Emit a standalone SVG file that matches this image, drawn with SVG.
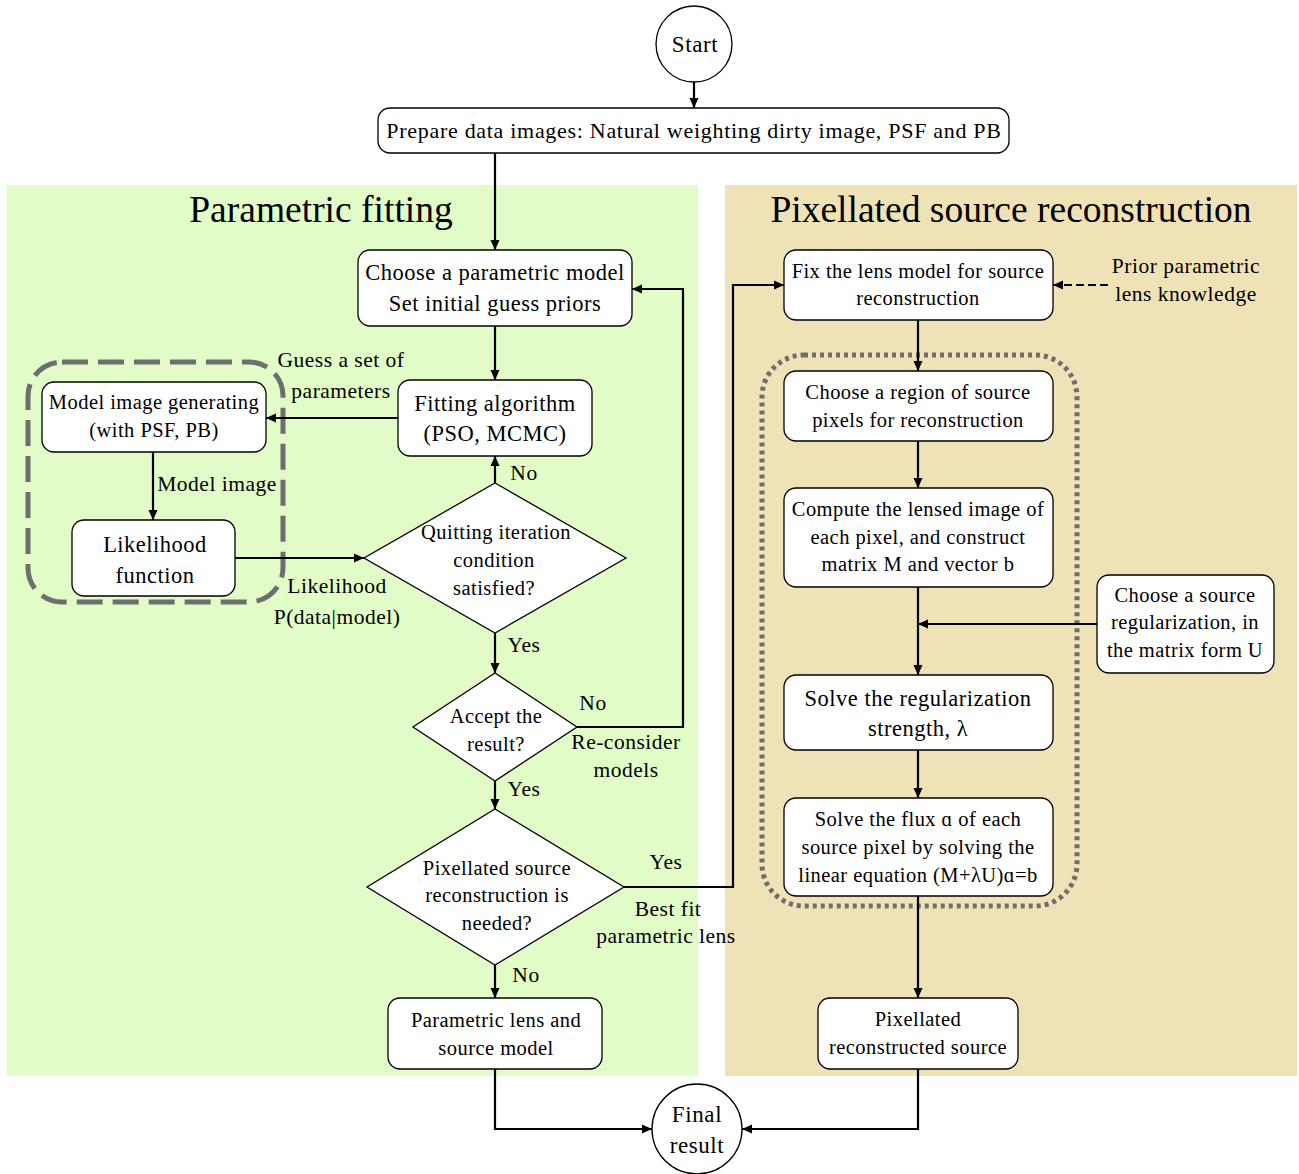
<svg xmlns="http://www.w3.org/2000/svg" width="1299" height="1174" viewBox="0 0 1299 1174">
<defs>
<marker id="ah" viewBox="0 0 10 10" refX="10" refY="5" markerWidth="10" markerHeight="10" markerUnits="userSpaceOnUse" orient="auto">
<path d="M0,0.5 L10,5 L0,9.5 z" fill="#000"/>
</marker>
<style>
text{font-family:"Liberation Serif","Times New Roman",serif;fill:#000;text-anchor:middle;dominant-baseline:central}
.t20{font-size:22px;letter-spacing:0.7px}
.t19{font-size:20.5px;letter-spacing:0.45px}
.t21{font-size:22.5px;letter-spacing:0.5px}
.t23{font-size:23px;letter-spacing:0.6px}
.title{font-size:37.5px}
.box{fill:#fff;stroke:#000;stroke-width:1.3}
.c{fill:none;stroke:#000;stroke-width:2.2;marker-end:url(#ah)}
.lab{font-size:21.5px;letter-spacing:0.5px}
</style>
</defs>
<rect width="1299" height="1174" fill="#fff"/>
<rect x="7" y="185" width="691" height="891" fill="#e1fcc6"/>
<rect x="725" y="185" width="572" height="891" fill="#eee2b6"/>
<text class="title" x="321" y="209">Parametric fitting</text>
<text class="title" x="1011" y="209">Pixellated source reconstruction</text>

<rect x="28" y="362" width="255" height="240" rx="34" fill="none" stroke="#6e6e6e" stroke-width="5" stroke-dasharray="26,10"/>
<rect x="762" y="355" width="315" height="551" rx="42" fill="none" stroke="#6e6e6e" stroke-width="5" stroke-dasharray="4,4"/>

<g id="connectors">
<path class="c" d="M694,82 V108"/>
<path class="c" d="M495,153 V250"/>
<path class="c" d="M495,326 V380"/>
<path class="c" d="M398,418 H266"/>
<path class="c" d="M153,452 V520"/>
<path class="c" d="M235,558 H364"/>
<path class="c" d="M495,483 V456"/>
<path class="c" d="M495,633 V673"/>
<path class="c" d="M577,727 H683 V289 H632"/>
<path class="c" d="M495,781 V809"/>
<path class="c" d="M624,887 H733 V285 H784"/>
<path class="c" d="M495,965 V998"/>
<path class="c" d="M495,1069 V1129 H652"/>
<path class="c" d="M1108,285 H1053" stroke-dasharray="8,4"/>
<path class="c" d="M918,320 V371"/>
<path class="c" d="M918,441 V488"/>
<path class="c" d="M918,587 V675"/>
<path class="c" d="M1097,624 H918"/>
<path class="c" d="M918,750 V798"/>
<path class="c" d="M918,896 V998"/>
<path class="c" d="M918,1069 V1129 H742"/>
</g>

<g id="labels">
<text class="lab" x="341" y="360">Guess a set of</text>
<text class="lab" x="341" y="391">parameters</text>
<text class="lab" x="217" y="484">Model image</text>
<text class="lab" x="337" y="586">Likelihood</text>
<text class="lab" x="337" y="617">P(data|model)</text>
<text class="lab" x="524" y="473">No</text>
<text class="lab" x="524" y="645">Yes</text>
<text class="lab" x="593" y="703">No</text>
<text class="lab" x="626" y="742">Re-consider</text>
<text class="lab" x="626" y="770">models</text>
<text class="lab" x="524" y="789">Yes</text>
<text class="lab" x="666" y="862">Yes</text>
<text class="lab" x="668" y="909">Best fit</text>
<text class="lab" x="666" y="936">parametric lens</text>
<text class="lab" x="526" y="975">No</text>
<text class="lab" x="1186" y="266">Prior parametric</text>
<text class="lab" x="1186" y="294">lens knowledge</text>
</g>

<g id="start">
<circle class="box" cx="694" cy="44" r="38"/>
<text class="t23" x="695" y="44">Start</text>
</g>
<g id="prepare">
<rect class="box" x="378" y="108" width="631" height="45" rx="12"/>
<text class="t20" x="694" y="130">Prepare data images: Natural weighting dirty image, PSF and PB</text>
</g>
<g id="choose-model">
<rect class="box" x="358" y="250" width="274" height="76" rx="12"/>
<text class="t21" x="495" y="272">Choose a parametric model</text>
<text class="t21" x="495" y="303">Set initial guess priors</text>
</g>
<g id="fitting">
<rect class="box" x="398" y="380" width="194" height="76" rx="12"/>
<text class="t21" x="495" y="403">Fitting algorithm</text>
<text class="t21" x="495" y="433">(PSO, MCMC)</text>
</g>
<g id="model-image">
<rect class="box" x="42" y="382" width="224" height="70" rx="12"/>
<text class="t19" x="154" y="402">Model image generating</text>
<text class="t19" x="154" y="430">(with PSF, PB)</text>
</g>
<g id="likelihood">
<rect class="box" x="72" y="520" width="163" height="76" rx="12"/>
<text class="t21" x="155" y="544">Likelihood</text>
<text class="t21" x="155" y="575">function</text>
</g>
<g id="quit">
<polygon class="box" points="495,483 626,558 495,633 364,558"/>
<text class="t19" x="496" y="532">Quitting iteration</text>
<text class="t19" x="494" y="560">condition</text>
<text class="t19" x="494" y="588">satisfied?</text>
</g>
<g id="accept">
<polygon class="box" points="495,673 577,727 495,781 413,727"/>
<text class="t19" x="496" y="716">Accept the</text>
<text class="t19" x="496" y="744">result?</text>
</g>
<g id="needed">
<polygon class="box" points="495,809 624,887 495,965 367,887"/>
<text class="t19" x="497" y="868">Pixellated source</text>
<text class="t19" x="497" y="895">reconstruction is</text>
<text class="t19" x="497" y="923">needed?</text>
</g>
<g id="param-result">
<rect class="box" x="388" y="998" width="214" height="71" rx="12"/>
<text class="t19" x="496" y="1020">Parametric lens and</text>
<text class="t19" x="496" y="1048">source model</text>
</g>
<g id="final">
<circle class="box" cx="697" cy="1129" r="45"/>
<text class="t23" x="697" y="1114">Final</text>
<text class="t23" x="697" y="1145">result</text>
</g>
<g id="fix-lens">
<rect class="box" x="784" y="250" width="269" height="70" rx="12"/>
<text class="t19" x="918" y="271">Fix the lens model for source</text>
<text class="t19" x="918" y="298">reconstruction</text>
</g>
<g id="region">
<rect class="box" x="784" y="371" width="269" height="70" rx="12"/>
<text class="t19" x="918" y="392">Choose a region of source</text>
<text class="t19" x="918" y="420">pixels for reconstruction</text>
</g>
<g id="compute">
<rect class="box" x="784" y="488" width="269" height="99" rx="12"/>
<text class="t19" x="918" y="509">Compute the lensed image of</text>
<text class="t19" x="918" y="537">each pixel, and construct</text>
<text class="t19" x="918" y="564">matrix M and vector b</text>
</g>
<g id="regularization">
<rect class="box" x="1097" y="575" width="177" height="98" rx="12"/>
<text class="t19" x="1185" y="595">Choose a source</text>
<text class="t19" x="1185" y="622">regularization, in</text>
<text class="t19" x="1185" y="650">the matrix form U</text>
</g>
<g id="solve-lambda">
<rect class="box" x="784" y="675" width="269" height="75" rx="12"/>
<text class="t21" x="918" y="698">Solve the regularization</text>
<text class="t21" x="918" y="728">strength, λ</text>
</g>
<g id="solve-flux">
<rect class="box" x="784" y="798" width="269" height="98" rx="12"/>
<text class="t19" x="918" y="819">Solve the flux ɑ of each</text>
<text class="t19" x="918" y="847">source pixel by solving the</text>
<text class="t19" x="918" y="875">linear equation (M+λU)ɑ=b</text>
</g>
<g id="pix-result">
<rect class="box" x="818" y="998" width="200" height="71" rx="12"/>
<text class="t19" x="918" y="1019">Pixellated</text>
<text class="t19" x="918" y="1047">reconstructed source</text>
</g>
</svg>
